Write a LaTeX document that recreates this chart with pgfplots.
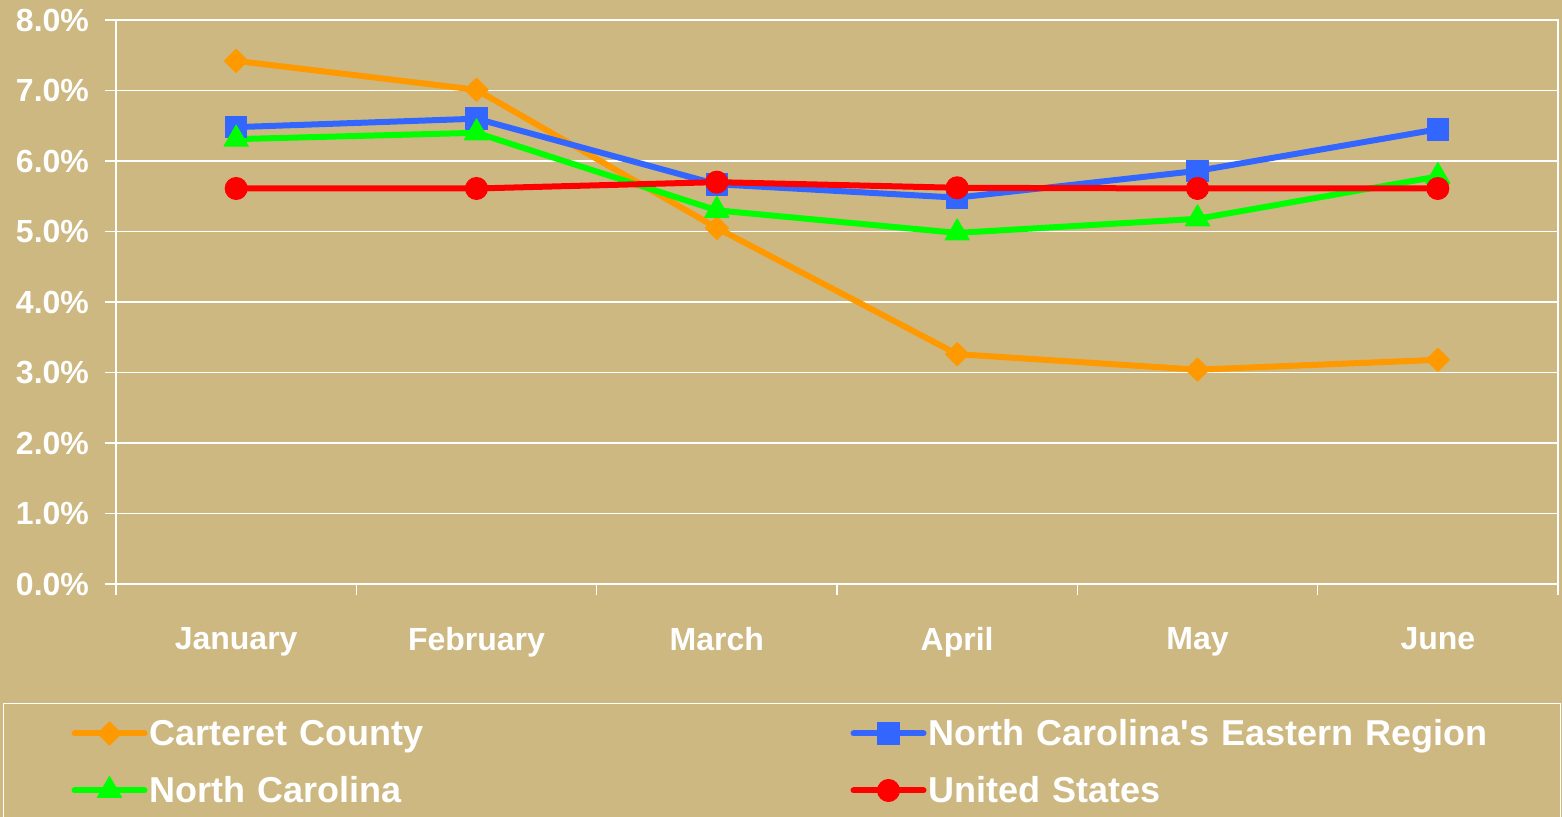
\documentclass[border=0pt]{standalone}
\usepackage{pgfplots}
\pgfplotsset{compat=1.18}
\usepackage{fontspec}
\setmainfont{Liberation Sans}
\definecolor{bg}{RGB}{206,184,130}
\definecolor{cOrange}{RGB}{255,153,0}
\definecolor{cBlue}{RGB}{51,102,255}
\definecolor{cGreen}{RGB}{0,255,0}
\definecolor{cRed}{RGB}{255,0,0}
\newcommand{\sq}{{\addfontfeatures{Ligatures=TeXOff}'}}
\begin{document}
\begin{tikzpicture}
\path[use as bounding box, fill=bg] (0,0) rectangle (781pt,408.5pt);
\begin{axis}[
  at={(58pt,116.5pt)}, anchor=south west,
  scale only axis, width=721pt, height=282pt,
  xmin=-0.5, xmax=5.5, ymin=0, ymax=8,
  xtick={0,...,5},
  xticklabels={January,February,March,April,May,June},
  minor xtick={-0.5,0.5,...,5.5},
  ytick={0,1,...,8},
  xtick pos=lower, ytick pos=left,
  tick align=outside, major tick length=5.5pt, minor tick length=5.5pt,
  major x tick style={draw=none},
  tick style={white, line width=0.6pt},
  ymajorgrids, grid style={white, line width=0.6pt},
  axis line style={white, line width=1pt},
  every tick label/.append style={text=white, font=\bfseries\fontsize{16}{19}\selectfont},
  xticklabel style={yshift=-12.5pt},
  yticklabel style={xshift=-4.5pt},
  /pgf/number format/assume math mode=true,
  yticklabel={\pgfmathprintnumber[fixed,fixed zerofill,precision=1]{\tick}\%},
  legend columns=2,
  legend style={at={(0,0)}, anchor=north west, xshift=-56.5pt, yshift=-59.5pt,
    draw=white, line width=0.5pt, fill=none, inner xsep=34pt, inner ysep=8pt,
    row sep=11.5pt, column sep=1pt,
    nodes={inner sep=0pt, text height=13pt, text depth=4pt, text width=282pt, align=left,
      font=\bfseries\fontsize{18}{21}\selectfont, text=white},
    /tikz/every even column/.append style={column sep=68.5pt}},
  legend image code/.code={\draw[mark repeat=2, mark phase=2, yshift=1.5pt] plot coordinates {(0pt,0pt)(17.5pt,0pt)(35pt,0pt)};},
  legend cell align=left,
  every axis plot/.append style={line width=3pt, line join=round, line cap=round},
]
\addplot[cOrange, mark=square*, mark options={rotate=45, mark size=4.1pt, line width=0.5pt}]
  coordinates {(0,7.42) (1,7.01) (2,5.05) (3,3.26) (4,3.04) (5,3.18)};
\addlegendentry{Carteret County}
\addplot[cBlue, mark=square*, mark options={mark size=5.4pt, line width=0.5pt}]
  coordinates {(0,6.48) (1,6.60) (2,5.67) (3,5.48) (4,5.86) (5,6.45)};
\addlegendentry{North Carolina\sq s Eastern Region}
\addplot[cGreen, mark=triangle*, mark options={mark size=7pt, line width=0.5pt}]
  coordinates {(0,6.31) (1,6.40) (2,5.30) (3,4.98) (4,5.18) (5,5.78)};
\addlegendentry{North Carolina}
\addplot[cRed, mark=*, mark options={mark size=5.5pt, line width=0.5pt}]
  coordinates {(0,5.61) (1,5.61) (2,5.70) (3,5.62) (4,5.61) (5,5.61)};
\addlegendentry{United States}
\end{axis}
\end{tikzpicture}
\end{document}
